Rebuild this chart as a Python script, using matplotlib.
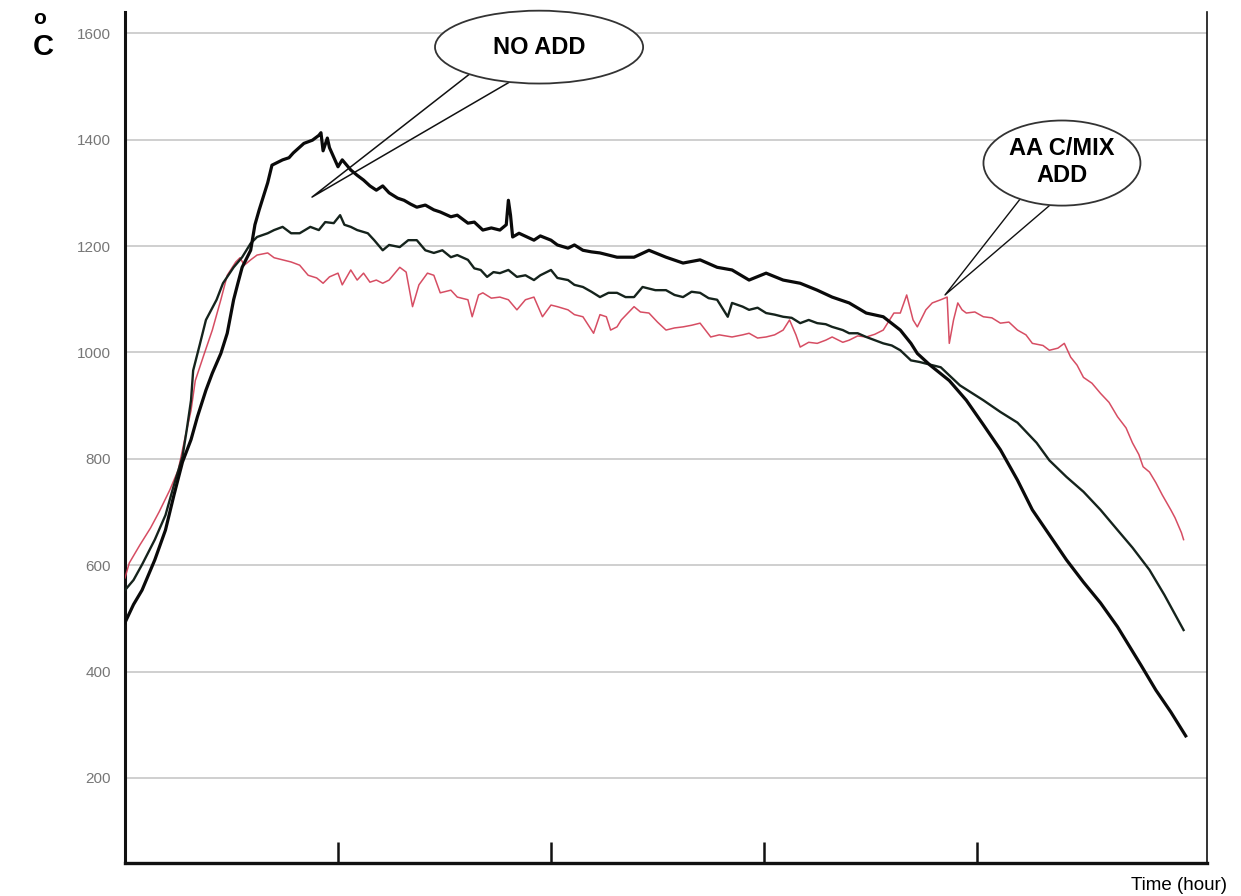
import matplotlib
matplotlib.use("Agg")
import matplotlib.pyplot as plt
from matplotlib.patches import Ellipse

# ---------------- data ----------------
# Series A: "NO ADD" thick black curve (time in hours, temperature in deg C)
a_time = [0.00, 0.04, 0.08, 0.14, 0.19, 0.23, 0.27, 0.31, 0.34, 0.38, 0.41, 0.45, 0.48, 0.51,
          0.53, 0.55, 0.59, 0.61, 0.63, 0.67, 0.69, 0.74, 0.77, 0.79, 0.84, 0.88, 0.91, 0.92,
          0.93, 0.95, 0.96, 1.00, 1.02, 1.06, 1.09, 1.12, 1.15, 1.18, 1.21, 1.24, 1.28, 1.31,
          1.34, 1.37, 1.41, 1.45, 1.48, 1.53, 1.56, 1.61, 1.64, 1.68, 1.72, 1.76, 1.79, 1.80,
          1.81, 1.82, 1.85, 1.92, 1.95, 2.00, 2.03, 2.08, 2.11, 2.15, 2.19, 2.23, 2.31, 2.39,
          2.46, 2.54, 2.62, 2.70, 2.78, 2.85, 2.93, 3.01, 3.09, 3.17, 3.25, 3.32, 3.40, 3.48,
          3.56, 3.64, 3.69, 3.72, 3.78, 3.87, 3.95, 4.03, 4.11, 4.19, 4.26, 4.34, 4.42, 4.50,
          4.58, 4.66, 4.77, 4.84, 4.91, 4.98]
a_temp = [492, 526, 553, 610, 666, 732, 794, 836, 879, 929, 961, 998, 1036, 1099,
          1130, 1160, 1192, 1240, 1268, 1319, 1352, 1362, 1366, 1375, 1393, 1399, 1408, 1413,
          1379, 1403, 1385, 1349, 1362, 1343, 1333, 1324, 1313, 1305, 1313, 1300, 1290, 1286,
          1279, 1273, 1277, 1268, 1264, 1255, 1258, 1243, 1245, 1230, 1234, 1230, 1240, 1286,
          1258, 1217, 1224, 1211, 1219, 1211, 1202, 1196, 1202, 1192, 1189, 1187, 1179, 1179,
          1192, 1179, 1168, 1174, 1160, 1155, 1136, 1149, 1136, 1130, 1117, 1104, 1093, 1074,
          1067, 1042, 1017, 998, 976, 947, 910, 864, 817, 760, 704, 657, 610, 568,
          529, 484, 412, 365, 324, 279]

# Series B: dark (green-black) curve
b_time = [0.00, 0.04, 0.08, 0.14, 0.19, 0.23, 0.27, 0.29, 0.31, 0.32, 0.35, 0.38, 0.43, 0.46,
          0.51, 0.55, 0.59, 0.62, 0.67, 0.70, 0.74, 0.78, 0.82, 0.87, 0.91, 0.94, 0.98, 1.01,
          1.03, 1.06, 1.09, 1.14, 1.17, 1.21, 1.24, 1.29, 1.33, 1.37, 1.41, 1.45, 1.49, 1.53,
          1.56, 1.61, 1.64, 1.67, 1.70, 1.73, 1.76, 1.80, 1.84, 1.88, 1.92, 1.95, 2.00, 2.03,
          2.08, 2.11, 2.15, 2.19, 2.23, 2.27, 2.31, 2.35, 2.39, 2.43, 2.49, 2.54, 2.58, 2.62,
          2.66, 2.70, 2.74, 2.78, 2.83, 2.85, 2.90, 2.93, 2.97, 3.01, 3.05, 3.09, 3.13, 3.17,
          3.21, 3.25, 3.29, 3.32, 3.37, 3.40, 3.44, 3.48, 3.52, 3.56, 3.60, 3.64, 3.69, 3.73,
          3.83, 3.92, 4.03, 4.11, 4.19, 4.28, 4.34, 4.42, 4.50, 4.58, 4.66, 4.73, 4.81, 4.88,
          4.97]
b_temp = [553, 572, 601, 648, 694, 751, 804, 855, 910, 966, 1013, 1061, 1099, 1130,
          1160, 1179, 1205, 1217, 1224, 1230, 1236, 1224, 1224, 1236, 1230, 1245, 1243, 1258,
          1240, 1236, 1230, 1224, 1211, 1192, 1202, 1198, 1211, 1211, 1192, 1187, 1192, 1179,
          1183, 1174, 1158, 1155, 1142, 1151, 1149, 1155, 1142, 1145, 1136, 1145, 1155, 1140,
          1136, 1127, 1123, 1114, 1104, 1112, 1112, 1104, 1104, 1123, 1117, 1117, 1108, 1104,
          1114, 1112, 1102, 1099, 1067, 1093, 1086, 1080, 1084, 1074, 1071, 1067, 1065, 1055,
          1061, 1055, 1053, 1048, 1042, 1036, 1036, 1029, 1023, 1017, 1013, 1004, 985, 982,
          972, 938, 910, 888, 868, 830, 797, 766, 738, 704, 666, 633, 591, 544,
          478]

# Series C: red "AA C/MIX ADD" curve
c_time = [0.00, 0.02, 0.07, 0.12, 0.16, 0.21, 0.25, 0.28, 0.31, 0.33, 0.37, 0.41, 0.45, 0.48,
          0.52, 0.54, 0.56, 0.59, 0.62, 0.67, 0.70, 0.74, 0.78, 0.82, 0.86, 0.90, 0.93, 0.96,
          1.00, 1.02, 1.06, 1.09, 1.12, 1.15, 1.18, 1.21, 1.24, 1.29, 1.32, 1.35, 1.38, 1.42,
          1.45, 1.48, 1.53, 1.56, 1.61, 1.63, 1.66, 1.68, 1.72, 1.76, 1.80, 1.84, 1.88, 1.92,
          1.96, 2.00, 2.03, 2.08, 2.11, 2.15, 2.20, 2.23, 2.26, 2.28, 2.31, 2.33, 2.39, 2.42,
          2.46, 2.50, 2.54, 2.58, 2.62, 2.66, 2.70, 2.75, 2.79, 2.85, 2.90, 2.93, 2.97, 3.01,
          3.05, 3.09, 3.12, 3.15, 3.17, 3.21, 3.25, 3.29, 3.32, 3.37, 3.40, 3.44, 3.48, 3.52,
          3.56, 3.61, 3.64, 3.67, 3.70, 3.72, 3.76, 3.79, 3.83, 3.86, 3.87, 3.89, 3.91, 3.93,
          3.95, 3.99, 4.03, 4.07, 4.11, 4.15, 4.19, 4.23, 4.26, 4.31, 4.34, 4.38, 4.41, 4.44,
          4.47, 4.50, 4.54, 4.58, 4.62, 4.66, 4.70, 4.73, 4.76, 4.78, 4.81, 4.84, 4.87, 4.91,
          4.93, 4.96, 4.97]
c_temp = [576, 604, 638, 670, 700, 741, 779, 836, 891, 947, 995, 1042, 1099, 1145,
          1170, 1178, 1164, 1174, 1183, 1187, 1178, 1174, 1170, 1164, 1145, 1140, 1130, 1142,
          1149, 1127, 1155, 1136, 1149, 1132, 1136, 1130, 1136, 1160, 1151, 1086, 1127, 1149,
          1145, 1112, 1117, 1104, 1099, 1067, 1108, 1112, 1102, 1104, 1099, 1080, 1099, 1104,
          1067, 1089, 1086, 1080, 1071, 1067, 1036, 1071, 1067, 1042, 1048, 1061, 1086, 1076,
          1074, 1057, 1042, 1046, 1048, 1051, 1055, 1029, 1033, 1029, 1033, 1036, 1027, 1029,
          1033, 1042, 1061, 1033, 1010, 1019, 1017, 1023, 1029, 1019, 1023, 1031, 1029, 1034,
          1042, 1074, 1074, 1108, 1061, 1048, 1080, 1093, 1099, 1104, 1017, 1061, 1093, 1080,
          1074, 1076, 1067, 1065, 1055, 1057, 1042, 1033, 1017, 1013, 1004, 1008, 1017, 991,
          976, 953, 942, 923, 906, 879, 858, 830, 808, 785, 775, 755, 732, 704,
          689, 661, 648]

y_ticks = [200, 400, 600, 800, 1000, 1200, 1400, 1600]
y_tick_labels = ["200", "400", "600", "800", "1000", "1200", "1400", "1600"]
x_ticks = [1, 2, 3, 4]

label_no_add = "NO ADD"
label_mix_add = "AA C/MIX\nADD"
unit_deg = "o"
unit_c = "C"
x_title = "Time (hour)"

# ---------------- figure ----------------
plt.rcParams['font.family'] = ['Liberation Sans', 'DejaVu Sans']
fig = plt.figure(figsize=(12.41, 8.96), dpi=100)
fig.patch.set_facecolor('white')
ax = fig.add_axes([125 / 1241, 33 / 896, 1082 / 1241, 851 / 896])
ax.set_xlim(0, 5.08)
ax.set_ylim(40, 1640)

ax.plot(c_time, c_temp, color='#d23a52', lw=1.1, alpha=0.9, zorder=3)
ax.plot(b_time, b_temp, color='#15231c', lw=1.7, zorder=4)
ax.plot(a_time, a_temp, color='#0a0a0a', lw=2.3, zorder=5)

ax.set_yticks(y_ticks)
ax.set_yticklabels(y_tick_labels, color='#777777', fontsize=11)
ax.set_xticks(x_ticks)
ax.tick_params(axis='y', length=0, pad=10)
ax.tick_params(axis='x', direction='in', length=15, width=1.8, color='#111111', labelbottom=False)
ax.grid(axis='y', color='#cccccc', lw=1.3, zorder=0)
ax.grid(axis='x', visible=False)

ax.spines['top'].set_visible(False)
ax.spines['left'].set_linewidth(2.2)
ax.spines['bottom'].set_linewidth(2.4)
ax.spines['right'].set_linewidth(1.2)
for s in ax.spines.values():
    s.set_color('#111111')

# callouts
ax.plot([1.62, 0.878, 1.80], [1524, 1292, 1507], color='#111111', lw=1.1, zorder=6, clip_on=False)
ax.add_patch(Ellipse((1.944, 1574), 0.977, 137, facecolor='white', edgecolor='#333333',
                     lw=1.3, zorder=7, clip_on=False))
ax.text(1.944, 1574, label_no_add, ha='center', va='center', fontsize=17,
        fontweight='bold', zorder=8)

ax.plot([4.20, 3.850, 4.343], [1287, 1108, 1277], color='#111111', lw=1.0, zorder=6, clip_on=False)
ax.add_patch(Ellipse((4.399, 1356), 0.737, 160, facecolor='white', edgecolor='#333333',
                     lw=1.3, zorder=7, clip_on=False))
ax.text(4.399, 1358, label_mix_add, ha='center', va='center', fontsize=17,
        fontweight='bold', linespacing=1.25, zorder=8)

fig.text(40 / 1241, 1 - 18 / 896, unit_deg, ha='center', va='center', fontsize=15, fontweight='bold')
fig.text(43 / 1241, 1 - 47 / 896, unit_c, ha='center', va='center', fontsize=21, fontweight='bold')
fig.text(1179 / 1241, 1 - 885 / 896, x_title, ha='center', va='center', fontsize=13.5)

fig.savefig("out.png", dpi=100, facecolor='white')
